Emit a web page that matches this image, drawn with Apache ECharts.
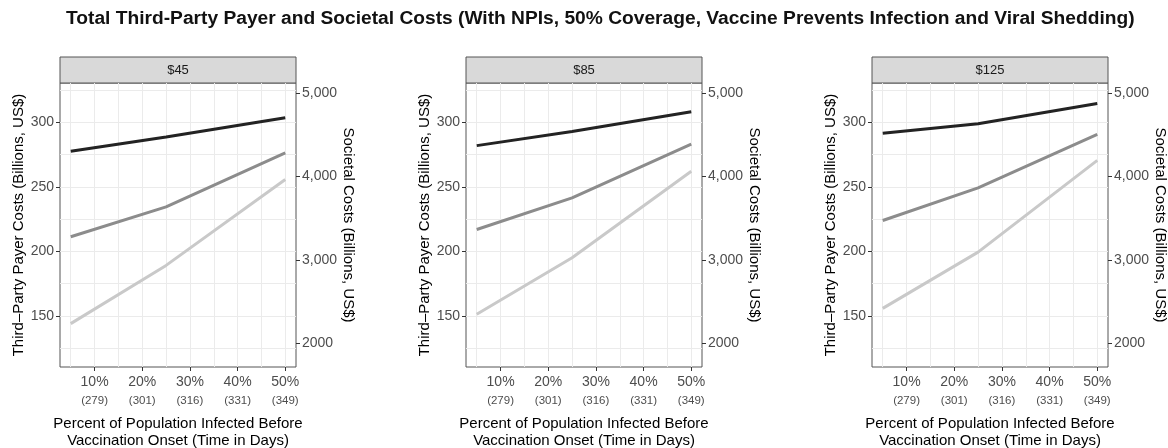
<!DOCTYPE html>
<html>
<head>
<meta charset="utf-8">
<script src="https://cdn.jsdelivr.net/npm/echarts@6/dist/echarts.min.js"></script>
<style>
  html, body { margin: 0; padding: 0; background: #fff; }
  #chart { width: 1168px; height: 448px; }
</style>
</head>
<body>
<div id="chart"></div>
<script>
// 数据
const facets = ['$45', '$85', '$125']
const pctX = [5, 25, 50]
const tickPct = [10, 20, 30, 40, 50]
const tickDays = [279, 301, 316, 331, 349]
const leftTicks = [150, 200, 250, 300]
const rightTicks = [2000, 3000, 4000, 5000]
const gridY = [125, 150, 175, 200, 225, 250, 275, 300, 325]
const gridX = [5, 10, 15, 20, 25, 30, 35, 40, 45, 50]

// 每个分面一行：5%, 25%, 50%
const darkLine = [
  [277.6, 288.7, 303.6],
  [282.0, 293.0, 308.2],
  [291.5, 299.0, 314.7]
]
const midLine = [
  [211.4, 234.5, 276.3],
  [217.0, 241.5, 283.2],
  [224.0, 249.2, 290.7]
]
const lightLine = [
  [144.1, 189.2, 255.7],
  [151.3, 195.1, 262.1],
  [155.9, 199.5, 270.6]
]

const lineColors = ['#232323', '#8c8c8c', '#c9c9c9']

// 布局
const panelLeft = [60, 466, 872]
const panelTop = 83
const panelW = 236
const panelH = 284
const yMin = 110.5
const yMax = 330.5
const secScale = 15.5
const font = 'Liberation Sans, Arial, Helvetica, sans-serif'
const tickColor = '#4d4d4d'

const chart = echarts.init(document.getElementById('chart'))

const grids = []
const xAxes = []
const yAxes = []
const series = []
const graphics = []

facets.forEach((name, i) => {
  grids.push({
    left: panelLeft[i],
    top: panelTop,
    width: panelW,
    height: panelH,
    outerBoundsMode: 'none',
    containLabel: false,
    show: true,
    borderColor: '#555',
    borderWidth: 1,
    backgroundColor: '#fff'
  })

  // 主 x 轴
  xAxes.push({
    gridIndex: i,
    type: 'value',
    min: 2.75,
    max: 52.25,
    position: 'bottom',
    axisLine: { show: false },
    axisTick: { show: true, customValues: tickPct, length: 4, lineStyle: { color: '#333' } },
    splitLine: { show: false },
    axisLabel: {
      customValues: tickPct,
      margin: 7,
      fontFamily: font,
      formatter: (v) => `{p|${v}%}\n{d|(${tickDays[tickPct.indexOf(v)]})}`,
      rich: {
        p: { fontSize: 14, lineHeight: 17, color: tickColor, fontFamily: font },
        d: { fontSize: 11.5, lineHeight: 20.5, color: tickColor, fontFamily: font }
      }
    },
    name: 'Percent of Population Infected Before\nVaccination Onset (Time in Days)',
    nameLocation: 'middle',
    nameGap: 49,
    nameTextStyle: { fontSize: 15, lineHeight: 16.5, color: '#000', fontFamily: font }
  })
  // 网格线用的隐藏 x 轴
  xAxes.push({
    gridIndex: i,
    type: 'value',
    min: 2.75,
    max: 52.25,
    position: 'top',
    axisLine: { show: false },
    axisTick: { show: false, length: 0, customValues: gridX },
    axisLabel: { show: false },
    splitLine: { show: true, lineStyle: { color: '#ebebeb', width: 1 } }
  })

  // 左轴
  yAxes.push({
    gridIndex: i,
    type: 'value',
    min: yMin,
    max: yMax,
    position: 'left',
    axisLine: { show: false },
    axisTick: { show: true, customValues: leftTicks, length: 4, lineStyle: { color: '#333' } },
    axisLabel: { customValues: leftTicks, margin: 6, fontSize: 14, color: tickColor, fontFamily: font },
    splitLine: { show: false },
    name: 'Third–Party Payer Costs (Billions, US$)',
    nameLocation: 'middle',
    nameRotate: 90,
    nameGap: 34,
    nameTextStyle: { fontSize: 15, color: '#000', fontFamily: font }
  })
  // 右轴（社会成本）
  yAxes.push({
    gridIndex: i,
    type: 'value',
    min: yMin * secScale,
    max: yMax * secScale,
    position: 'right',
    axisLine: { show: false },
    axisTick: { show: true, customValues: rightTicks, length: 4, lineStyle: { color: '#333' } },
    axisLabel: {
      customValues: rightTicks,
      margin: 6,
      fontSize: 14,
      color: tickColor,
      fontFamily: font,
      formatter: (v) => v === 2000 ? '2000' : v.toLocaleString('en-US')
    },
    splitLine: { show: false },
    name: 'Societal Costs (Billions, US$)',
    nameLocation: 'middle',
    nameRotate: -90,
    nameGap: 44,
    nameTextStyle: { fontSize: 15, color: '#000', fontFamily: font }
  })
  // 网格线用的隐藏 y 轴
  yAxes.push({
    gridIndex: i,
    type: 'value',
    min: yMin,
    max: yMax,
    position: 'left',
    axisLine: { show: false },
    axisTick: { show: false, length: 0, customValues: gridY },
    axisLabel: { show: false },
    splitLine: { show: true, lineStyle: { color: '#ebebeb', width: 1 } }
  })

  const lines = [darkLine[i], midLine[i], lightLine[i]]
  lines.forEach((vals, k) => {
    series.push({
      type: 'line',
      xAxisIndex: i * 2,
      yAxisIndex: i * 3,
      data: pctX.map((x, j) => [x, vals[j]]),
      showSymbol: false,
      silent: true,
      z: 10 - k,
      lineStyle: { color: lineColors[k], width: 3 }
    })
  })

  // 分面标签条
  graphics.push({
    type: 'rect',
    shape: { x: panelLeft[i], y: 57, width: panelW, height: 26 },
    style: { fill: '#d9d9d9', stroke: '#555', lineWidth: 1 }
  })
  graphics.push({
    type: 'text',
    x: panelLeft[i] + panelW / 2,
    y: 70,
    style: {
      text: name,
      fill: '#1a1a1a',
      font: `13px ${font}`,
      textAlign: 'center',
      textVerticalAlign: 'middle'
    }
  })
})

const option = {
  animation: false,
  backgroundColor: '#fff',
  title: {
    text: 'Total Third-Party Payer and Societal Costs (With NPIs, 50% Coverage, Vaccine Prevents Infection and Viral Shedding)',
    left: 61,
    top: 4,
    textStyle: { fontSize: 19.2, fontWeight: 'bold', color: '#111', fontFamily: font }
  },
  grid: grids,
  xAxis: xAxes,
  yAxis: yAxes,
  series: series,
  graphic: graphics
}

chart.setOption(option)
</script>
</body>
</html>
